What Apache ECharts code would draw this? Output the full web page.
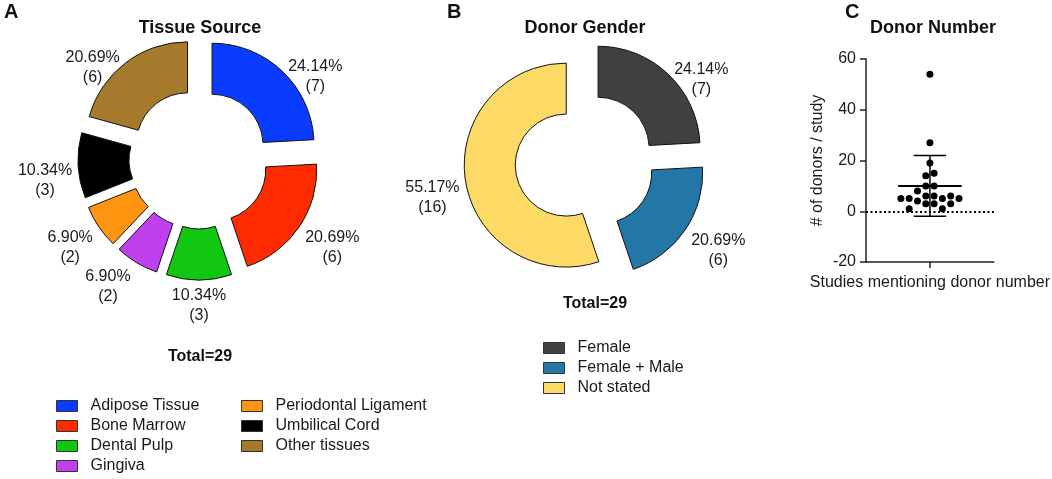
<!DOCTYPE html>
<html><head><meta charset="utf-8">
<script src="https://cdn.jsdelivr.net/npm/echarts@6/dist/echarts.min.js"></script>
<style>html,body{margin:0;padding:0;background:#fff}#c{width:1052px;height:479px}</style>
</head><body><div id="c"></div>
<script>
// ---- data ----
const tissueNames = ['Adipose Tissue','Bone Marrow','Dental Pulp','Gingiva','Periodontal Ligament','Umbilical Cord','Other tissues'];
const tissueCounts = [7, 6, 3, 2, 2, 3, 6];
const genderNames = ['Female','Female + Male','Not stated'];
const genderCounts = [7, 6, 16];
// donors per study (beeswarm) and the swarm column of each dot
const donorCounts = [54, 27, 19, 15, 14, 10, 10, 8, 6, 6, 6, 5, 5, 5, 5, 4, 3, 3, 3, 1, 1];
const donorSlot   = [0, 0, 0, 0.5, -0.5, -0.5, 0.5, -1.5, -0.5, 0.5, 2.5, -3.5, -2.5, 1.5, 3.5, -1.5, -0.5, 0.5, 2.5, -2.5, 1.5];
const yTicks = [-20, 0, 20, 40, 60];
const panelTitles = ['Tissue Source', 'Donor Gender', 'Donor Number'];
const xAxisName = 'Studies mentioning donor number';
const yAxisName = '# of donors / study';

// ---- styles ----
const tissueColors = ['#0a3cff','#ff2a00','#12c712','#c040ee','#ff9410','#000000','#a67a2c'];
const genderColors = ['#404040','#2277a6','#fdd966'];
const FONT = '"Liberation Sans", Arial, sans-serif';
const TXT = '#1a1a1a';
const PIE_R = [51, 102], PIE_OFF = 19;

const sum = a => a.reduce((s, v) => s + v, 0);
const tissueTotal = sum(tissueCounts), genderTotal = sum(genderCounts);
const mean = sum(donorCounts) / donorCounts.length;
const sd = Math.sqrt(sum(donorCounts.map(v => (v - mean) * (v - mean))) / (donorCounts.length - 1));

const mctx = document.createElement('canvas').getContext('2d');
function textWidth(t) { mctx.font = '16px ' + FONT; return mctx.measureText(t).width; }
const clamp = v => Math.max(-1, Math.min(1, v));

function pieSeries(names, counts, colors, cx, cy) {
  return {
    type: 'pie', center: [cx, cy], radius: PIE_R, startAngle: 90, clockwise: true,
    selectedMode: 'multiple', selectedOffset: PIE_OFF, avoidLabelOverlap: false, silent: true,
    emphasis: { disabled: true }, animation: false,
    itemStyle: { borderColor: '#111', borderWidth: 1 },
    select: { itemStyle: { borderColor: '#111', borderWidth: 1 } },
    label: { show: false }, labelLine: { show: false },
    data: names.map((n, i) => ({ name: n, value: counts[i], selected: true, itemStyle: { color: colors[i] } }))
  };
}
// percentage labels placed just outside each exploded slice
function pieLabelSeries(counts, cx, cy) {
  const total = sum(counts);
  return {
    type: 'custom', coordinateSystem: 'none', silent: true, z: 10, animation: false,
    data: counts.map(c => [c]),
    renderItem: function (params, api) {
      const i = params.dataIndex, v = api.value(0);
      let before = 0; for (let k = 0; k < i; k++) before += counts[k];
      const a = (before + v / 2) / total * 2 * Math.PI;
      const s = Math.sin(a), c = Math.cos(a);
      const line1 = (v / total * 100).toFixed(2) + '%';
      const w = textWidth(line1);
      const r0 = PIE_R[1] + PIE_OFF;
      const x = cx + r0 * s + clamp(s / 0.3) * (w / 2 + 6);
      const y = cy - r0 * c + 14 - 12 * c;
      return { type: 'text', style: { text: line1 + '\n(' + v + ')', x: x, y: y, fill: TXT, fontSize: 16,
        fontFamily: FONT, lineHeight: 20, align: 'center', verticalAlign: 'middle' } };
    }
  };
}
const legendBase = {
  orient: 'vertical', itemWidth: 21, itemHeight: 11, itemGap: 4, icon: 'rect', selectedMode: false, padding: 0,
  itemStyle: { borderColor: '#333', borderWidth: 1 },
  textStyle: { fontSize: 16, color: TXT, fontFamily: FONT, padding: [0, 0, 0, 8] }
};
const titleStyle = (size) => ({ fontSize: size, fontWeight: 'bold', color: '#111', fontFamily: FONT });
const axisColor = '#222';

const option = {
  animation: false,
  backgroundColor: '#fff',
  title: [
    { text: 'A', left: 4, top: 2, padding: 0, textStyle: titleStyle(20) },
    { text: 'B', left: 447, top: 2, padding: 0, textStyle: titleStyle(20) },
    { text: 'C', left: 845, top: 2, padding: 0, textStyle: titleStyle(20) },
    { text: panelTitles[0], left: 200, top: 19, padding: 0, textAlign: 'center', textStyle: titleStyle(18) },
    { text: panelTitles[1], left: 585, top: 19, padding: 0, textAlign: 'center', textStyle: titleStyle(18) },
    { text: panelTitles[2], left: 933, top: 19, padding: 0, textAlign: 'center', textStyle: titleStyle(18) },
    { text: 'Total=' + tissueTotal, left: 200, top: 349, padding: 0, textAlign: 'center', textStyle: titleStyle(16) },
    { text: 'Total=' + genderTotal, left: 595, top: 296, padding: 0, textAlign: 'center', textStyle: titleStyle(16) }
  ],
  legend: [
    Object.assign({}, legendBase, { data: tissueNames.slice(0, 4), left: 56, top: 398 }),
    Object.assign({}, legendBase, { data: tissueNames.slice(4), left: 241, top: 398 }),
    Object.assign({}, legendBase, { data: genderNames, left: 543, top: 340 })
  ],
  grid: [{ left: 866, right: 52, top: 59, bottom: 217 }],
  xAxis: [{
    gridIndex: 0, type: 'value', min: -7.7, max: 7.7,
    axisLine: { show: true, onZero: false, lineStyle: { color: axisColor, width: 1.5 } },
    axisTick: { show: true, customValues: [0], length: 6, lineStyle: { color: axisColor, width: 1.5 } },
    axisLabel: { show: false }, splitLine: { show: false },
    name: xAxisName, nameLocation: 'middle', nameGap: 13,
    nameTextStyle: { fontSize: 16, color: TXT, fontFamily: FONT }
  }],
  yAxis: [{
    gridIndex: 0, type: 'value', min: yTicks[0], max: yTicks[yTicks.length - 1],
    axisLine: { show: true, onZero: false, lineStyle: { color: axisColor, width: 1.5 } },
    axisTick: { show: true, customValues: yTicks, length: 6, lineStyle: { color: axisColor, width: 1.5 } },
    axisLabel: { customValues: yTicks, fontSize: 16, color: TXT, margin: 10, fontFamily: FONT },
    splitLine: { show: false },
    name: yAxisName, nameLocation: 'middle', nameGap: 40,
    nameTextStyle: { fontSize: 16, color: TXT, fontFamily: FONT }
  }],
  series: [
    pieSeries(tissueNames, tissueCounts, tissueColors, 199, 159),
    pieLabelSeries(tissueCounts, 199, 159),
    pieSeries(genderNames, genderCounts, genderColors, 585, 162),
    pieLabelSeries(genderCounts, 585, 162),
    {
      type: 'scatter', xAxisIndex: 0, yAxisIndex: 0, symbolSize: 7, silent: true, z: 5,
      itemStyle: { color: '#000', opacity: 1 },
      data: donorCounts.map((v, i) => [donorSlot[i], v]),
      markLine: { silent: true, symbol: 'none', label: { show: false },
        lineStyle: { type: [2, 2.5], color: '#000', width: 2 }, data: [{ yAxis: 0 }] }
    },
    { type: 'line', xAxisIndex: 0, yAxisIndex: 0, symbol: 'none', silent: true, z: 4,
      lineStyle: { color: '#000', width: 2 }, data: [[-3.83, mean], [3.83, mean]] },
    { type: 'line', xAxisIndex: 0, yAxisIndex: 0, symbol: 'none', silent: true, z: 4,
      lineStyle: { color: '#000', width: 1.5 }, data: [[0, mean - sd], [0, mean + sd]] },
    { type: 'line', xAxisIndex: 0, yAxisIndex: 0, symbol: 'none', silent: true, z: 4,
      lineStyle: { color: '#000', width: 1.5 }, data: [[-1.95, mean + sd], [1.95, mean + sd]] },
    { type: 'line', xAxisIndex: 0, yAxisIndex: 0, symbol: 'none', silent: true, z: 4,
      lineStyle: { color: '#000', width: 1.5 }, data: [[-1.95, mean - sd], [1.95, mean - sd]] }
  ]
};
const chart = echarts.init(document.getElementById('c'));
chart.setOption(option);
</script>
</body></html>
